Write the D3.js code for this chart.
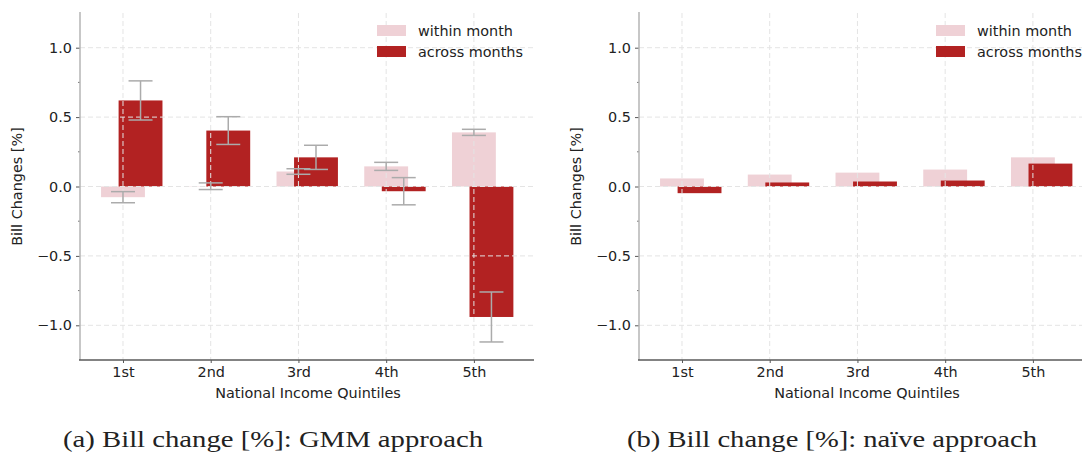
<!DOCTYPE html>
<html>
<head>
<meta charset="utf-8">
<script src="https://cdn.jsdelivr.net/npm/d3@7"></script>
<style>
  html, body { margin: 0; padding: 0; background: #fff; }
  svg { display: block; }
  .tick text { font-family: "DejaVu Sans", sans-serif; }
</style>
</head>
<body>
<svg id="chart" width="1082" height="453"></svg>
<script>
// Income quintiles on the x axis
const quintiles = ["1st", "2nd", "3rd", "4th", "5th"];

// (a) GMM approach: bill changes [%] and error half-widths
const gmmWithin = [-0.077, 0.002, 0.108, 0.145, 0.390];
const gmmWithinErr = [0.040, 0.024, 0.020, 0.029, 0.022];
const gmmAcross = [0.620, 0.403, 0.210, -0.034, -0.940];
const gmmAcrossErr = [0.141, 0.100, 0.087, 0.098, 0.180];

// (b) naive approach: bill changes [%]
const naiveWithin = [0.058, 0.086, 0.100, 0.122, 0.210];
const naiveAcross = [-0.048, 0.029, 0.036, 0.043, 0.165];

const yMajorTicks = [-1.0, -0.5, 0.0, 0.5, 1.0];
const yMinorTicks = [-0.75, -0.25, 0.25, 0.75];
const seriesNames = ["within month", "across months"];
const captions = ["(a) Bill change [%]: GMM approach", "(b) Bill change [%]: na\u00efve approach"];

const colWithin = "#efd1d6";
const colAcross = "#b22222";
const gridCol = "#e4e4e4";
const errCol = "#ababab";
const font = "'DejaVu Sans', sans-serif";
const fs = 14.4;

const svg = d3.select("#chart");

const plotTop = 13, plotBottom = 360, axWidth = 454;

function panel(left, within, withinErr, across, acrossErr, caption, captionX, captionW) {
  const g = svg.append("g");
  const x = d3.scaleLinear().domain([-0.49, 4.685]).range([left, left + axWidth]);
  const y = d3.scaleLinear().domain([-1.25, 1.25]).range([plotBottom, plotTop]);
  const bw = 0.5;

  // within-month bars, centred on the category
  g.selectAll(".within").data(within).join("rect")
    .attr("x", (d, i) => x(i - bw / 2))
    .attr("width", x(bw) - x(0))
    .attr("y", d => y(Math.max(0, d)))
    .attr("height", d => Math.abs(y(d) - y(0)))
    .attr("fill", colWithin);

  // across-month bars, shifted to the right
  g.selectAll(".across").data(across).join("rect")
    .attr("x", (d, i) => x(i + 0.2 - bw / 2))
    .attr("width", x(bw) - x(0))
    .attr("y", d => y(Math.max(0, d)))
    .attr("height", d => Math.abs(y(d) - y(0)))
    .attr("fill", colAcross);

  // dashed grid drawn over the bars
  const grid = g.append("g").attr("stroke", gridCol).attr("stroke-width", 1)
    .attr("stroke-dasharray", "5,3");
  grid.selectAll(".gy").data(yMajorTicks).join("line")
    .attr("x1", left).attr("x2", left + axWidth)
    .attr("y1", d => y(d)).attr("y2", d => y(d));
  grid.selectAll(".gx").data(quintiles).join("line")
    .attr("x1", (d, i) => x(i)).attr("x2", (d, i) => x(i))
    .attr("y1", plotTop).attr("y2", plotBottom);

  // error bars
  function errorBars(vals, errs, offset) {
    if (!errs) return;
    const eg = g.append("g").attr("stroke", errCol).attr("stroke-width", 1.5).attr("fill", "none");
    vals.forEach((v, i) => {
      const cx = x(i + offset);
      const lo = y(v - errs[i]), hi = y(v + errs[i]);
      eg.append("line").attr("x1", cx).attr("x2", cx).attr("y1", lo).attr("y2", hi);
      eg.append("line").attr("x1", cx - 12).attr("x2", cx + 12).attr("y1", lo).attr("y2", lo);
      eg.append("line").attr("x1", cx - 12).attr("x2", cx + 12).attr("y1", hi).attr("y2", hi);
    });
  }
  errorBars(within, withinErr, 0);
  errorBars(across, acrossErr, 0.2);

  // y axis
  const yAxis = d3.axisLeft(y).tickValues(yMajorTicks).tickSize(4).tickPadding(4)
    .tickFormat(d => d3.format(".1f")(d).replace("-", "\u2212"));
  const ya = g.append("g").attr("transform", `translate(${left},0)`).call(yAxis);
  ya.select(".domain").remove();
  ya.selectAll(".tick line").attr("stroke", "#555").attr("stroke-width", 1);
  ya.selectAll(".tick text").attr("font-size", fs).attr("fill", "#222");
  g.selectAll(".minor").data(yMinorTicks).join("line")
    .attr("x1", left - 2).attr("x2", left).attr("y1", d => y(d)).attr("y2", d => y(d))
    .attr("stroke", "#555").attr("stroke-width", 0.8);

  // x axis
  const xAxis = d3.axisBottom(x).tickValues(d3.range(quintiles.length)).tickSize(3).tickPadding(4)
    .tickFormat(i => quintiles[i]);
  const xa = g.append("g").attr("transform", `translate(0,${plotBottom})`).call(xAxis);
  xa.select(".domain").remove();
  xa.selectAll(".tick line").attr("stroke", "#555").attr("stroke-width", 1);
  xa.selectAll(".tick text").attr("font-size", fs).attr("fill", "#222");

  // spines
  g.append("line").attr("x1", left).attr("x2", left).attr("y1", plotTop - 1).attr("y2", plotBottom)
    .attr("stroke", "#b4b4b4").attr("stroke-width", 1.5);
  g.append("line").attr("x1", left - 1).attr("x2", left + axWidth).attr("y1", plotBottom).attr("y2", plotBottom)
    .attr("stroke", "#5a5a5a").attr("stroke-width", 1.5);

  // axis titles
  g.append("text").attr("x", (left + left + axWidth) / 2 + 1).attr("y", 398)
    .attr("text-anchor", "middle").attr("font-family", font).attr("font-size", fs).attr("fill", "#222")
    .text("National Income Quintiles");
  g.append("text").attr("transform", `translate(${left - 58},${(plotTop + plotBottom) / 2}) rotate(-90)`)
    .attr("text-anchor", "middle").attr("font-family", font).attr("font-size", fs).attr("fill", "#222")
    .text("Bill Changes [%]");

  // legend
  const lx = left + 297;
  const lg = g.append("g");
  [colWithin, colAcross].forEach((c, k) => {
    lg.append("rect").attr("x", lx).attr("y", 25 + k * 21).attr("width", 29).attr("height", 11).attr("fill", c);
    lg.append("text").attr("x", lx + 41).attr("y", 36 + k * 21)
      .attr("font-family", font).attr("font-size", fs).attr("fill", "#222")
      .text(seriesNames[k]);
  });

  // caption
  svg.append("text").attr("x", captionX).attr("y", 447)
    .attr("font-family", "'Liberation Serif', 'DejaVu Serif', serif").attr("font-size", 23)
    .attr("fill", "#222")
    .attr("textLength", captionW).attr("lengthAdjust", "spacingAndGlyphs")
    .text(caption);
}

panel(80, gmmWithin, gmmWithinErr, gmmAcross, gmmAcrossErr, captions[0], 63, 420);
panel(639, naiveWithin, null, naiveAcross, null, captions[1], 627, 410);
</script>
</body>
</html>
